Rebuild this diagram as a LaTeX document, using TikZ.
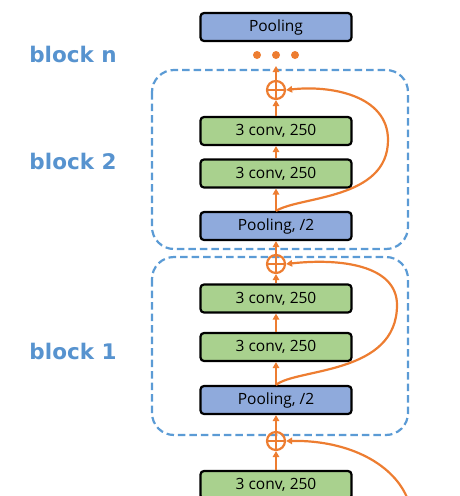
\documentclass[tikz,border=0pt]{standalone}
\usepackage{fontspec}
\setmainfont{Open Sans}
\newfontfamily\lblfont{DejaVu Sans}
\usetikzlibrary{arrows.meta}
\definecolor{boxblue}{HTML}{8FAADC}
\definecolor{boxgreen}{HTML}{A9D18E}
\definecolor{orng}{HTML}{ED7D31}
\definecolor{dashblue}{HTML}{5B9BD5}
\definecolor{lblblue}{HTML}{5793CF}
\tikzset{
  layer/.style={draw=black, line width=2.2pt, rounded corners=3.5pt, minimum width=151pt, minimum height=28pt, inner sep=0pt, font=\fontsize{15.5}{17}\selectfont},
  poolbox/.style={layer, fill=boxblue},
  convbox/.style={layer, fill=boxgreen},
  addnode/.style={circle, draw=orng, line width=2.2pt, minimum size=18pt, inner sep=0pt, path picture={\draw[orng, line width=2.2pt] (path picture bounding box.north) -- (path picture bounding box.south) (path picture bounding box.west) -- (path picture bounding box.east);}},
  flow/.style={draw=orng, line width=2.2pt, -{Triangle[length=6pt,width=6.5pt]}},
  blockframe/.style={draw=dashblue, line width=2.2pt, dash pattern=on 7.5pt off 4pt, rounded corners=22pt},
  blocklabel/.style={text=lblblue, font=\lblfont\bfseries\fontsize{21.5}{24}\selectfont},
  dot/.style={circle, fill=orng, minimum size=8pt, inner sep=0pt}
}
\begin{document}
\begin{tikzpicture}[x=1pt, y=-1pt]
\useasboundingbox (0,0) rectangle (460,496);
% frames
\draw[blockframe] (152,70) rectangle (408,249);
\draw[blockframe] (152,257) rectangle (408,435);
% labels
\node[blocklabel] (ln) at (73,54) {block n};
\node[blocklabel] (l2) at (73,161) {block 2};
\node[blocklabel] (l1) at (73,351) {block 1};
% top
\node[poolbox] (ptop) at (276,27) {Pooling};
\node[dot] (d1) at (257,55) {};
\node[dot] (d2) at (276,55) {};
\node[dot] (d3) at (295,55) {};
% block 2
\coordinate (b2out) at (276,66);
\node[addnode] (a2) at (276,90) {};
\node[convbox] (c2b) at (276,131) {3 conv, 250};
\node[convbox] (c2a) at (276,173.5) {3 conv, 250};
\node[poolbox] (p2) at (276,226) {Pooling, /2};
% block 1
\node[addnode] (a1) at (276,264) {};
\node[convbox] (c1b) at (276,298.5) {3 conv, 250};
\node[convbox] (c1a) at (276,347) {3 conv, 250};
\node[poolbox] (p1) at (276,400) {Pooling, /2};
% below
\node[addnode] (a0) at (276,441) {};
\node[convbox] (c0) at (276,485) {3 conv, 250};
\coordinate (skip0) at (408,500);
% arrows
\draw[flow] (a2.north) -- (b2out);
\draw[flow] (c2b.north) -- (a2.south);
\draw[flow] (c2a.north) -- (c2b.south);
\draw[flow] (p2.north) -- (c2a.south);
\draw[flow] (a1.north) -- (p2.south);
\draw[flow] (c1b.north) -- (a1.south);
\draw[flow] (c1a.north) -- (c1b.south);
\draw[flow] (p1.north) -- (c1a.south);
\draw[flow] (a0.north) -- (p1.south);
\draw[flow] (c0.north) -- (a0.south);
% skips
\draw[flow] (p2.north) .. controls (300,196) and (388,200) .. (388,140) .. controls (388,95) and (330,85) .. (a2.east);
\draw[flow] (p1.north) .. controls (297,368) and (397,375) .. (397,305) .. controls (397,265) and (340,258) .. (a1.east);
\draw[flow] (skip0) .. controls (395,465) and (350,440) .. (a0.east);
\end{tikzpicture}
\end{document}
